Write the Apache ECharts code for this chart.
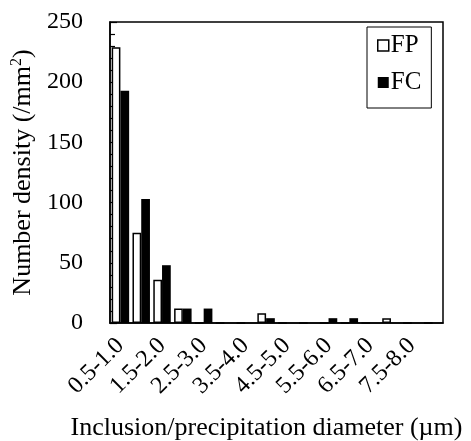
<!DOCTYPE html>
<html>
<head>
<meta charset="utf-8">
<script src="https://cdn.jsdelivr.net/npm/echarts@6/dist/echarts.min.js"></script>
<style>
  html, body { margin: 0; padding: 0; background: #fff; }
  #chart { width: 471px; height: 441px; }
</style>
</head>
<body>
<div id="chart"></div>
<script>
// 粒径区间 (µm)
const categories = ['0.5-1.0', '1.0-1.5', '1.5-2.0', '2.0-2.5', '2.5-3.0', '3.0-3.5', '3.5-4.0', '4.0-4.5',
  '4.5-5.0', '5.0-5.5', '5.5-6.0', '6.0-6.5', '6.5-7.0', '7.0-7.5', '7.5-8.0', '8.0-8.5']
const fpValues = [229, 75, 36, 12, 0, 0, 0, 8, 0, 0, 0, 0, 0, 4, 0, 0]
const fcValues = [193, 103, 48, 12, 12, 0, 0, 4, 0, 0, 4, 4, 0, 0, 0, 0]
const yMin = 0
const yMax = 250
const yStep = 50

const font = 'Liberation Serif, Times New Roman, serif'
const chart = echarts.init(document.getElementById('chart'))

chart.setOption({
  animation: false,
  textStyle: { fontFamily: font, color: '#000' },
  grid: {
    left: 110,
    right: 28,
    top: 22,
    bottom: 118,
    outerBoundsMode: 'none',
    containLabel: false,
    show: true,
    borderColor: '#000',
    borderWidth: 1.5
  },
  legend: {
    orient: 'vertical',
    left: 367,
    top: 27,
    padding: [6, 10, 13, 10],
    itemGap: 12,
    itemWidth: 11,
    itemHeight: 11,
    borderColor: '#000',
    borderWidth: 1,
    textStyle: { fontFamily: font, fontSize: 25, color: '#000', padding: [0, 0, 0, -3] },
    data: [
      { name: 'FP', icon: 'rect', itemStyle: { color: '#fff', borderColor: '#000', borderWidth: 1.5 } },
      { name: 'FC', icon: 'rect', itemStyle: { color: '#000' } }
    ]
  },
  xAxis: {
    type: 'category',
    data: categories,
    name: 'Inclusion/precipitation diameter (\u00b5m)',
    nameLocation: 'middle',
    nameGap: 92,
    nameTextStyle: { fontFamily: font, fontSize: 26, color: '#000', padding: [0, 20, 0, 0] },
    axisLine: { lineStyle: { color: '#000', width: 1.5 } },
    axisTick: { inside: true, length: 5, interval: 0, lineStyle: { color: '#000', width: 1.2 } },
    axisLabel: {
      interval: 1,
      rotate: 45,
      margin: 19,
      fontFamily: font,
      fontSize: 24,
      color: '#000'
    },
    splitLine: { show: false }
  },
  yAxis: {
    type: 'value',
    min: yMin,
    max: yMax,
    interval: yStep,
    name: 'Number density (/mm{sup|2})',
    nameLocation: 'middle',
    nameGap: 70,
    nameTextStyle: {
      fontFamily: font,
      fontSize: 26,
      color: '#000',
      rich: {
        sup: { fontFamily: font, fontSize: 16, color: '#000', verticalAlign: 'top', padding: [0, 0, 12, 0] }
      }
    },
    axisLine: { show: true, lineStyle: { color: '#000', width: 1.5 } },
    axisTick: { show: true, inside: true, length: 7, lineStyle: { color: '#000', width: 1.2 } },
    minorTick: { show: true, splitNumber: 5, length: 5, lineStyle: { color: '#000', width: 1.2 } },
    axisLabel: { margin: 27, fontFamily: font, fontSize: 24, color: '#000' },
    splitLine: { show: false }
  },
  series: [
    {
      name: 'FP',
      type: 'bar',
      data: fpValues,
      barGap: '0%',
      barCategoryGap: '16%',
      itemStyle: { color: '#fff', borderColor: '#000', borderWidth: 1.5 }
    },
    {
      name: 'FC',
      type: 'bar',
      data: fcValues,
      itemStyle: { color: '#000' }
    }
  ]
})
</script>
</body>
</html>
